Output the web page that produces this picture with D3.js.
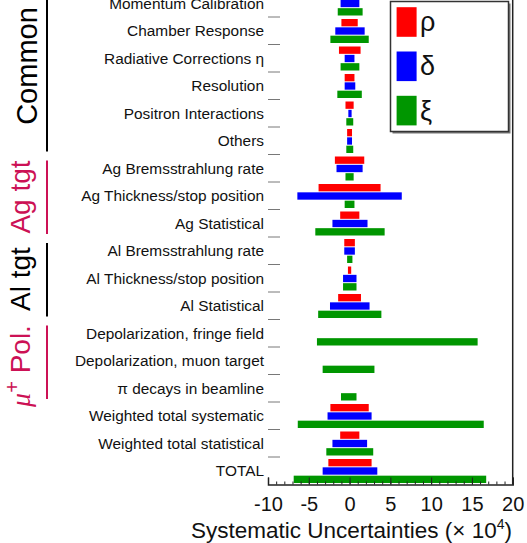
<!DOCTYPE html>
<html>
<head>
<meta charset="utf-8">
<script src="https://cdn.jsdelivr.net/npm/d3@7"></script>
<style>
  body { margin: 0; background: #fff; }
  text { font-family: "Liberation Sans", Arial, Helvetica, sans-serif; }
</style>
</head>
<body>
<div class="box"></div>
<script>
// categories, top to bottom
const categories = [
  'Momentum Calibration', 'Chamber Response', 'Radiative Corrections η', 'Resolution',
  'Positron Interactions', 'Others', 'Ag Bremsstrahlung rate', 'Ag Thickness/stop position',
  'Ag Statistical', 'Al Bremsstrahlung rate', 'Al Thickness/stop position', 'Al Statistical',
  'Depolarization, fringe field', 'Depolarization, muon target', 'π decays in beamline',
  'Weighted total systematic', 'Weighted total statistical', 'TOTAL'
];

// uncertainties (x 10^4), low and high edge of each bar
const rhoLow    = [-1.0, -1.0, -1.3, -0.6, -0.5, -0.3, -1.8, -3.8, -1.15, -0.65, -0.2, -1.4, 0, 0, 0, -2.35, -1.15, -2.6];
const rhoHigh   = [ 1.0,  1.0,  1.35, 0.6,  0.5,  0.3,  1.8,  3.8,  1.2,   0.65,  0.2,  1.4, 0, 0, 0,  2.35,  1.2,   2.7];
const deltaLow  = [-1.1, -1.75, -0.6, -0.6, -0.15, -0.3, -1.6, -6.4, -2.1, -0.65, -0.8, -2.4, 0, 0, 0, -2.7, -2.1, -3.3];
const deltaHigh = [ 1.2,  1.85,  0.6,  0.7,  0.25,  0.3,  1.6,  6.4,  2.2,  0.65,  0.85, 2.45, 0, 0, 0,  2.7,  2.15, 3.4];
const xiLow     = [-1.45, -2.35, -1.1, -1.5, -0.4, -0.4, -0.5, -0.6, -4.2, -0.3, -0.8, -3.85, -4.0, -3.3, -1.05, -6.35, -2.85, -6.85];
const xiHigh    = [ 1.6,   2.35,  1.2,  1.5,  0.45, 0.45, 0.5,  0.6,  4.3,  0.35, 0.85, 3.9,  15.7,  3.05,  0.85, 16.45,  2.9,  16.75];

const seriesNames = ['ρ', 'δ', 'ξ'];
const seriesColors = ['#ff0000', '#0000ff', '#009600'];

const xTicks = [-10, -5, 0, 5, 10, 15, 20];

// groups on the left
const groupNames  = ['Common', 'Ag tgt', 'Al tgt', 'μ+ Pol.'];
const groupStart  = [0, 6, 9, 12];
const groupEnd    = [5, 8, 11, 14];
const groupColors = ['#000000', '#cc1155', '#000000', '#cc1155'];

const W = 527, H = 543;
const axisY = 484.5, step = 27.5;

const svg = d3.select('.box')
              .append('svg')
              .attr('width', W)
              .attr('height', H);

const x = d3.scaleLinear().domain([-10, 20]).range([268, 512.7]);
const y = d3.scaleBand()
            .domain(categories)
            .range([axisY - categories.length * step, axisY]);
const sub = d3.scaleBand()
              .domain(seriesNames)
              .range([2, 26])
              .paddingInner(0.12);

const series = [
  {name: 'ρ', lo: rhoLow, hi: rhoHigh},
  {name: 'δ', lo: deltaLow, hi: deltaHigh},
  {name: 'ξ', lo: xiLow, hi: xiHigh}
];

const color = d3.scaleOrdinal().domain(seriesNames).range(seriesColors);

// bars
series.forEach(s => {
  const rows = categories.map((c, i) => ({cat: c, lo: s.lo[i], hi: s.hi[i]}))
                         .filter(d => d.hi - d.lo > 0);
  svg.append('g').selectAll('rect')
     .data(rows)
     .enter()
     .append('rect')
     .attr('x', d => x(d.lo))
     .attr('width', d => x(d.hi) - x(d.lo))
     .attr('y', d => y(d.cat) + sub(s.name))
     .attr('height', sub.bandwidth())
     .attr('fill', color(s.name));
});

// left ticks at band edges
svg.append('g').selectAll('line')
   .data(categories)
   .enter()
   .append('line')
   .attr('x1', x(-10)).attr('x2', x(-10) + 12)
   .attr('y1', d => y(d)).attr('y2', d => y(d))
   .attr('stroke', '#555')
   .attr('stroke-width', 0.8);

// category labels
svg.append('g').selectAll('text')
   .data(categories)
   .enter()
   .append('text')
   .attr('x', 264)
   .attr('y', d => y(d) + y.bandwidth() / 2 + 5.6)
   .attr('text-anchor', 'end')
   .attr('font-size', 15.4)
   .attr('fill', '#111')
   .text(d => d);

// bottom axis, ticks pointing up
const minor = svg.append('g')
   .attr('transform', `translate(0, ${axisY})`)
   .call(d3.axisBottom(x).tickValues(d3.range(-10, 21)).tickSize(-3).tickFormat(''));
minor.select('.domain').remove();
minor.selectAll('line').attr('stroke', '#222');

const major = svg.append('g')
   .attr('transform', `translate(0, ${axisY})`)
   .call(d3.axisBottom(x).tickValues(xTicks).tickSize(-7).tickPadding(12.3).tickFormat(d => String(d)));
major.select('.domain').attr('stroke', '#222').attr('stroke-width', 1.5);
major.selectAll('line').attr('stroke', '#222');
major.selectAll('text')
     .attr('font-size', 20)
     .attr('font-family', '"Liberation Sans", Arial, sans-serif')
     .attr('fill', '#111');

// right frame
svg.append('line')
   .attr('x1', x(20)).attr('x2', x(20))
   .attr('y1', 0).attr('y2', axisY)
   .attr('stroke', '#222')
   .attr('stroke-width', 1.5);

// axis title
const title = svg.append('text')
   .attr('x', 512)
   .attr('y', 538)
   .attr('text-anchor', 'end')
   .attr('font-size', 22.5)
   .attr('fill', '#111');
title.append('tspan').text('Systematic Uncertainties (× 10');
title.append('tspan').attr('font-size', 14).attr('dy', -9).text('4');
title.append('tspan').attr('dy', 9).text(')');

// legend
const leg = svg.append('g');
leg.append('rect')
   .attr('x', 392.5).attr('y', 3.5)
   .attr('width', 118).attr('height', 130)
   .attr('fill', '#777');
leg.append('rect')
   .attr('x', 390.5).attr('y', 1.5)
   .attr('width', 118).attr('height', 130)
   .attr('fill', '#fff')
   .attr('stroke', '#333')
   .attr('stroke-width', 1.5);
seriesNames.forEach((n, i) => {
  const cy = 22 + i * 44.3;
  leg.append('rect')
     .attr('x', 396.6).attr('y', cy - 14.8)
     .attr('width', 20).attr('height', 29.6)
     .attr('fill', color(n));
  leg.append('text')
     .attr('x', 420).attr('y', cy + 9)
     .attr('font-size', 27)
     .attr('fill', '#111')
     .text(n);
});

// group labels on the left
const textCenters = [66, 197, 279, 366];
groupNames.forEach((g, i) => {
  const top = y(categories[groupStart[i]]) + 6;
  const bot = y(categories[groupEnd[i]]) + step - 3;
  svg.append('line')
     .attr('x1', 47).attr('x2', 47)
     .attr('y1', top).attr('y2', bot)
     .attr('stroke', groupColors[i])
     .attr('stroke-width', 2);
  const bx = i === 0 ? 37 : 30;
  const t = svg.append('text')
     .attr('transform', `translate(${bx}, ${textCenters[i]}) rotate(-90)`)
     .attr('text-anchor', 'middle')
     .attr('font-size', i === 0 ? 29 : 28)
     .attr('fill', groupColors[i]);
  if (g.startsWith('μ')) {
    t.append('tspan').attr('font-style', 'italic').attr('font-family', '"Liberation Serif", serif').text('μ');
    t.append('tspan').attr('font-size', 20).attr('dy', -11).text('+');
    t.append('tspan').attr('dy', 11).text(' Pol.');
  } else {
    t.text(g);
  }
});
</script>
</body>
</html>
